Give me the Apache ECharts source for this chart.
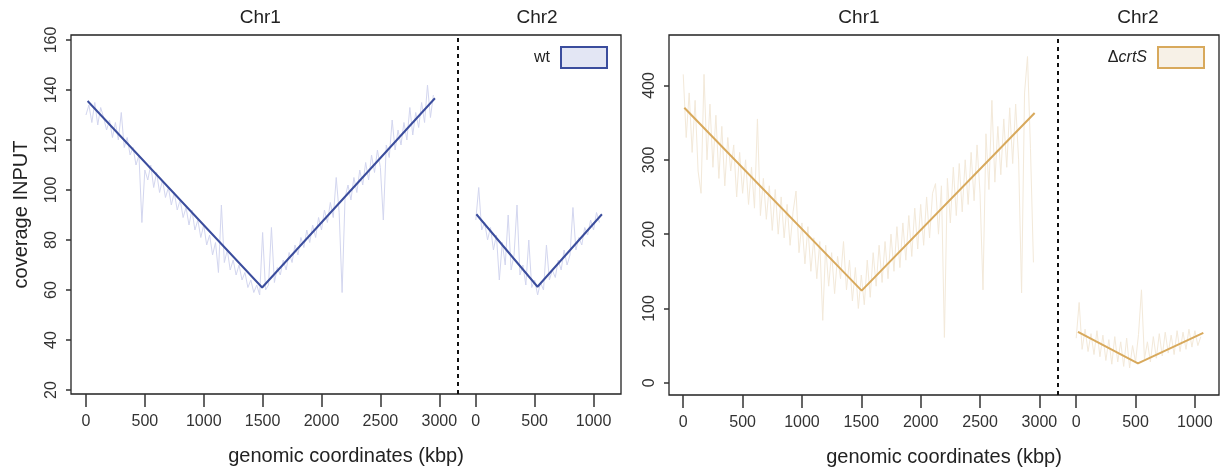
<!DOCTYPE html>
<html>
<head>
<meta charset="utf-8">
<script src="https://cdn.jsdelivr.net/npm/echarts@6/dist/echarts.min.js"></script>
<style>
html,body{margin:0;padding:0;background:#fff;}
#chart{width:1224px;height:475px;}
</style>
</head>
<body>
<div id="chart"></div>
<script>
// ---------- data ----------
const chr1Pos = [0,25,50,75,100,125,150,175,200,225,250,275,300,325,350,375,400,425,450,475,
  500,525,550,575,600,625,650,675,700,725,750,775,800,825,850,875,900,925,950,975,
  1000,1025,1050,1075,1100,1125,1150,1175,1200,1225,1250,1275,1300,1325,1350,1375,1400,1425,1450,1475,
  1500,1525,1550,1575,1600,1625,1650,1675,1700,1725,1750,1775,1800,1825,1850,1875,1900,1925,1950,1975,
  2000,2025,2050,2075,2100,2125,2150,2175,2200,2225,2250,2275,2300,2325,2350,2375,2400,2425,2450,2475,
  2500,2525,2550,2575,2600,2625,2650,2675,2700,2725,2750,2775,2800,2825,2850,2875,2900,2925,2950];
const chr2Pos = [0,25,50,75,100,125,150,175,200,225,250,275,300,325,350,375,400,425,450,475,
  500,525,550,575,600,625,650,675,700,725,750,775,800,825,850,875,900,925,950,975,
  1000,1025,1050];

const wtChr1 = [130,134,127,135,126,133,129,124,128,121,
  127,120,131,117,121,114,117,110,114,87,
  108,104,110,101,107,99,104,97,101,94,
  99,92,96,89,93,86,92,84,88,81,
  86,78,82,74,79,67,94,71,76,68,
  72,66,70,64,67,61,64,59,62,58,
  83,60,62,85,63,69,66,72,68,75,
  71,78,74,81,77,84,79,86,81,89,
  84,92,87,95,89,105,91,59,97,102,
  96,105,99,108,102,111,104,114,107,116,
  109,88,118,113,128,116,124,118,127,120,
  133,122,131,125,135,127,142,129,138];
const wtChr2 = [88,101,84,87,80,85,76,82,64,79,
  70,90,68,74,94,66,70,62,80,61,
  64,58,63,60,78,64,68,65,72,68,
  76,70,74,93,76,81,78,85,82,88,
  84,91,87];
const crtSChr1 = [415,330,390,310,380,285,255,415,300,375,
  290,360,275,345,265,330,285,320,250,310,
  255,300,240,290,235,355,225,275,220,265,
  205,260,200,250,195,240,185,230,258,175,
  215,160,210,150,195,140,190,84,185,130,
  175,120,170,140,190,125,165,110,155,100,
  145,105,165,115,175,130,185,135,190,140,
  200,150,210,155,215,165,225,170,235,180,
  240,185,250,195,255,268,200,265,61,275,
  215,290,225,295,230,300,240,310,245,320,
  255,125,335,260,380,270,345,280,355,290,
  370,295,375,300,121,390,439,315,162];
const crtSChr2 = [60,108,45,72,42,66,38,70,35,64,
  30,58,25,62,28,55,22,60,20,50,
  28,65,125,32,55,28,62,33,66,36,
  68,40,64,38,70,42,68,45,72,48,
  70,50,62];

// fitted piecewise-linear lines (position kbp, coverage)
const wtFitChr1Pos = [14,1496,2963],   wtFitChr1Val = [135.6,61,136.7];
const wtFitChr2Pos = [5,524,1071],     wtFitChr2Val = [90.3,61.3,90.3];
const crtSFitChr1Pos = [9,1503,2960],  crtSFitChr1Val = [370,124,363];
const crtSFitChr2Pos = [15,520,1071],  crtSFitChr2Val = [68.6,26,67];

// tick labels
const xTicksChr1 = [0,500,1000,1500,2000,2500,3000];
const xTicksChr2 = [0,500,1000];
const yTicksWt = [20,40,60,80,100,120,140,160];
const yTicksCrtS = [0,100,200,300,400];
const chrTitles = ['Chr1','Chr2'];
const chrCenters = [1480, 520];

// layout constants (combined coordinate: Chr2 drawn after Chr1 with an offset)
const CHR2_OFFSET = 3310;
const CHR_BOUNDARY = 3156;

// ---------- build ----------
const FONT = 'Liberation Sans, Arial, Helvetica, sans-serif';
const pairs = (xs, ys, off) => xs.map((x, i) => [x + off, ys[i]]);
const xTickVals = xTicksChr1.concat(xTicksChr2.map(v => v + CHR2_OFFSET));
const xFmt = v => (v >= CHR2_OFFSET ? v - CHR2_OFFSET : v) + '';
const titleVals = [chrCenters[0], chrCenters[1] + CHR2_OFFSET];

function bottomAxis(gi, min, max) {
  return {
    type: 'value', gridIndex: gi, position: 'bottom', min, max,
    splitLine: {show: false},
    axisLine: {show: false, onZero: false},
    axisTick: {show: true, length: 13, customValues: xTickVals, lineStyle: {color: '#333', width: 1.5}},
    axisLabel: {customValues: xTickVals, formatter: xFmt, margin: 20, fontSize: 16, color: '#333', fontFamily: FONT},
    name: 'genomic coordinates (kbp)', nameLocation: 'middle', nameGap: 52,
    nameTextStyle: {fontSize: 20, color: '#222', fontFamily: FONT}
  };
}
function topAxis(gi, min, max) {
  return {
    type: 'value', gridIndex: gi, position: 'top', min, max,
    splitLine: {show: false}, axisLine: {show: false, onZero: false}, axisTick: {show: false},
    axisLabel: {customValues: titleVals, formatter: v => chrTitles[v > CHR2_OFFSET ? 1 : 0],
      margin: 8, fontSize: 19, color: '#222', fontFamily: FONT}
  };
}
function leftAxis(gi, min, max, ticks, name) {
  return {
    type: 'value', gridIndex: gi, min, max, position: 'left',
    splitLine: {show: false}, axisLine: {show: false, onZero: false},
    axisTick: {show: true, length: 5, customValues: ticks, lineStyle: {color: '#333', width: 1.5}},
    axisLabel: {customValues: ticks, rotate: 90, margin: 11, fontSize: 16, color: '#333', fontFamily: FONT},
    name: name, nameLocation: 'middle', nameGap: 40,
    nameTextStyle: {fontSize: 20, color: '#222', fontFamily: FONT}
  };
}
function trace(name, xi, yi, data, color, mark) {
  const s = {
    type: 'line', name, xAxisIndex: xi, yAxisIndex: yi, data,
    showSymbol: false, symbol: 'none', silent: true, z: 1,
    lineStyle: {color, width: 1}, itemStyle: {color}
  };
  if (mark) {
    s.markLine = {silent: true, symbol: 'none', label: {show: false},
      lineStyle: {color: '#111', type: [4, 4], width: 2}, data: [{xAxis: CHR_BOUNDARY}]};
  }
  return s;
}
function fit(name, xi, yi, data, color) {
  return {
    type: 'line', name, xAxisIndex: xi, yAxisIndex: yi, data,
    showSymbol: false, symbol: 'none', silent: true, z: 3,
    lineStyle: {color, width: 2}, itemStyle: {color}
  };
}

const WT_LINE = '#3b4d9d', WT_TRACE = '#d3d6ef', WT_FILL = '#e3e6f4';
const CR_LINE = '#d8a95c', CR_TRACE = '#f3e9d9', CR_FILL = '#f7f1e7';

const option = {
  animation: false,
  backgroundColor: '#ffffff',
  grid: [
    {left: 71, top: 35, width: 550, height: 359, show: true, borderColor: '#222', borderWidth: 1.3, backgroundColor: 'transparent'},
    {left: 669, top: 35, width: 550, height: 360, show: true, borderColor: '#222', borderWidth: 1.3, backgroundColor: 'transparent'}
  ],
  xAxis: [bottomAxis(0, -127, 4543), bottomAxis(1, -120, 4513), topAxis(0, -127, 4543), topAxis(1, -120, 4513)],
  yAxis: [leftAxis(0, 18.4, 162, yTicksWt, 'coverage INPUT'), leftAxis(1, -16.5, 468, yTicksCrtS, '')],
  legend: [
    {right: 616, top: 46, itemWidth: 46, itemHeight: 21, align: 'right', padding: 0, selectedMode: false,
      textStyle: {fontSize: 16, color: '#222', fontFamily: FONT, padding: [0, 6, 0, 0]},
      data: [{name: 'wt', icon: 'rect', itemStyle: {color: WT_FILL, borderColor: WT_LINE, borderWidth: 2}}]},
    {right: 19, top: 46, itemWidth: 46, itemHeight: 21, align: 'right', padding: 0, selectedMode: false,
      formatter: () => '{d|\u0394}{i|crtS}',
      textStyle: {fontSize: 16, color: '#222', fontFamily: FONT, padding: [0, 6, 0, 0],
        rich: {d: {fontSize: 16, fontFamily: FONT, color: '#222'}, i: {fontSize: 16, fontStyle: 'italic', fontFamily: FONT, color: '#222'}}},
      data: [{name: '\u0394crtS', icon: 'rect', itemStyle: {color: CR_FILL, borderColor: CR_LINE, borderWidth: 2}}]}
  ],
  series: [
    trace('wt', 0, 0, pairs(chr1Pos, wtChr1, 0), WT_TRACE, true),
    trace('wt', 0, 0, pairs(chr2Pos, wtChr2, CHR2_OFFSET), WT_TRACE, false),
    fit('wt fit', 0, 0, pairs(wtFitChr1Pos, wtFitChr1Val, 0), WT_LINE),
    fit('wt fit', 0, 0, pairs(wtFitChr2Pos, wtFitChr2Val, CHR2_OFFSET), WT_LINE),
    trace('\u0394crtS', 1, 1, pairs(chr1Pos, crtSChr1, 0), CR_TRACE, true),
    trace('\u0394crtS', 1, 1, pairs(chr2Pos, crtSChr2, CHR2_OFFSET), CR_TRACE, false),
    fit('crtS fit', 1, 1, pairs(crtSFitChr1Pos, crtSFitChr1Val, 0), CR_LINE),
    fit('crtS fit', 1, 1, pairs(crtSFitChr2Pos, crtSFitChr2Val, CHR2_OFFSET), CR_LINE)
  ]
};

const chart = echarts.init(document.getElementById('chart'), null, {renderer: 'canvas'});
chart.setOption(option);
</script>
</body>
</html>
